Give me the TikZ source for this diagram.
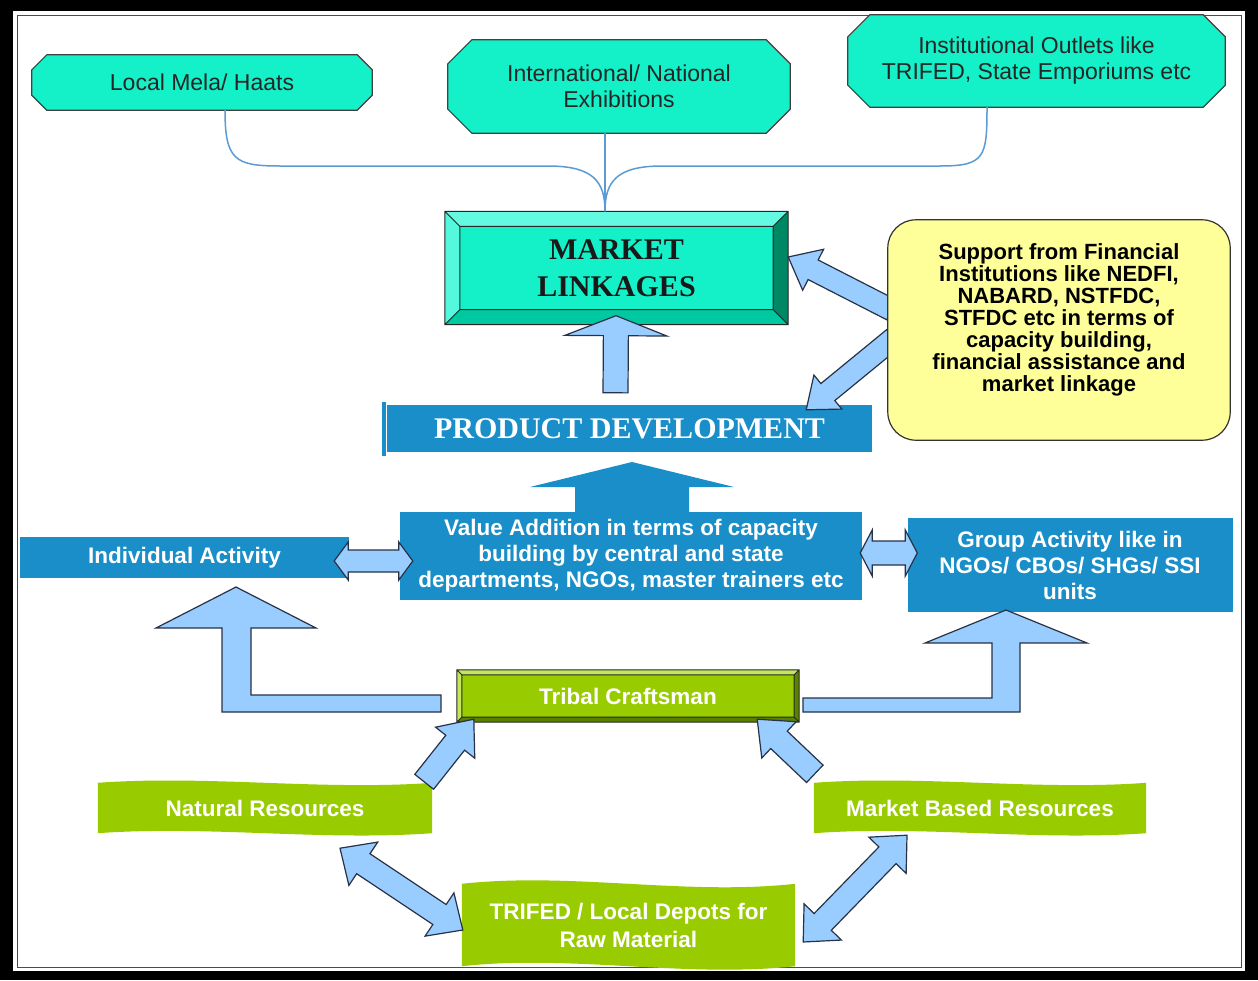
\documentclass[tikz,border=0pt]{standalone}
\usepackage{fontspec}
\setmainfont{Liberation Sans}
\newfontfamily\tnr{Liberation Serif}
\usetikzlibrary{calc,backgrounds}
\definecolor{turq}{RGB}{20,240,200}
\definecolor{turqlight}{RGB}{100,250,225}
\definecolor{turqmid}{RGB}{0,200,160}
\definecolor{turqdark}{RGB}{0,135,100}
\definecolor{boxblue}{RGB}{25,142,200}
\definecolor{arrblue}{RGB}{153,204,255}
\definecolor{leaf}{RGB}{153,204,0}
\definecolor{leaflight}{RGB}{195,230,90}
\definecolor{leafdark}{RGB}{90,130,0}
\definecolor{note}{RGB}{255,255,153}
\definecolor{wire}{RGB}{91,155,213}
\definecolor{outl}{RGB}{40,50,70}
\tikzset{
 base/.style={inner sep=0pt, align=center},
 octtext/.style={base, font=\fontsize{23}{26}\selectfont, text=black!85},
 bluebox/.style={base, fill=boxblue, text=white, font=\bfseries\fontsize{22.5}{26}\selectfont},
 greentext/.style={base, text=white, font=\bfseries\fontsize{22.5}{28}\selectfont},
 octo/.style={fill=turq, draw=black!75, line width=1.2pt},
 blockarrow/.style={fill=arrblue, draw=outl, line width=1.2pt, line join=miter},
 wireline/.style={draw=wire, line width=1.5pt},
}
\newcommand\octshape[2]{%
  \draw[octo] ($(#1.north west)+(#2,0)$) -- ($(#1.north east)+(-#2,0)$) -- ($(#1.north east)+(0,#2)$) -- ($(#1.south east)+(0,-#2)$) -- ($(#1.south east)+(-#2,0)$) -- ($(#1.south west)+(#2,0)$) -- ($(#1.south west)+(0,-#2)$) -- ($(#1.north west)+(0,#2)$) -- cycle;}
\newcommand\bevelshape[7]{%
  \fill[#3] (#1.north west) rectangle (#1.south east);
  \fill[#4] (#1.north west) -- (#1.north east) -- ($(#1.north east)+(-#2,#2)$) -- ($(#1.north west)+(#2,#2)$) -- cycle;
  \fill[#5] (#1.north west) -- ($(#1.north west)+(#2,#2)$) -- ($(#1.south west)+(#2,-#2)$) -- (#1.south west) -- cycle;
  \fill[#6] (#1.south west) -- ($(#1.south west)+(#2,-#2)$) -- ($(#1.south east)+(-#2,-#2)$) -- (#1.south east) -- cycle;
  \fill[#7] (#1.south east) -- ($(#1.south east)+(-#2,-#2)$) -- ($(#1.north east)+(-#2,#2)$) -- (#1.north east) -- cycle;
  \draw[black!85, line width=1pt] (#1.north west) rectangle (#1.south east) ($(#1.north west)+(#2,#2)$) rectangle ($(#1.south east)+(-#2,-#2)$) (#1.north west) -- ++(#2,#2) (#1.north east) -- ++(-#2,#2) (#1.south east) -- ++(-#2,-#2) (#1.south west) -- ++(#2,-#2);}
\newcommand\waveshape[2]{%
  \fill[leaf] (#1.north west) .. controls ($(#1.north west)!0.33!(#1.north east)+(0,-2*#2)$) and ($(#1.north west)!0.67!(#1.north east)+(0,2*#2)$) .. (#1.north east) -- (#1.south east) .. controls ($(#1.south west)!0.67!(#1.south east)+(0,2*#2)$) and ($(#1.south west)!0.33!(#1.south east)+(0,-2*#2)$) .. (#1.south west) -- cycle;}
\newcommand\barrow[5]{%
  \coordinate (bahb) at ($(#2)!#5!(#1)$);
  \draw[blockarrow] ($(#1)!#3!90:(#2)$) -- ($(bahb)!#3!90:(#2)$) -- ($(bahb)!#4!90:(#2)$) -- (#2) -- ($(bahb)!#4!-90:(#2)$) -- ($(bahb)!#3!-90:(#2)$) -- ($(#1)!#3!-90:(#2)$) -- cycle;}
\newcommand\dbarrow[5]{%
  \coordinate (dba) at ($(#1)!#5!(#2)$);
  \coordinate (dbb) at ($(#2)!#5!(#1)$);
  \draw[blockarrow] (#1) -- ($(dba)!#4!90:(#2)$) -- ($(dba)!#3!90:(#2)$) -- ($(dbb)!#3!90:(#2)$) -- ($(dbb)!#4!90:(#2)$) -- (#2) -- ($(dbb)!#4!-90:(#2)$) -- ($(dbb)!#3!-90:(#2)$) -- ($(dba)!#3!-90:(#2)$) -- ($(dba)!#4!-90:(#2)$) -- cycle;}
\begin{document}
\begin{tikzpicture}[x=1pt,y=-1pt]
\useasboundingbox (0,0) rectangle (1258,980);
% ---------- nodes (text) ----------
\node[octtext, minimum width=340pt, minimum height=55pt] (o1) at (202,82.5) {Local Mela/ Haats};
\node[octtext, minimum width=342pt, minimum height=93pt] (o2) at (619,86.5) {International/ National\\Exhibitions};
\node[octtext, minimum width=377pt, minimum height=92pt] (o3) at (1036.5,61) {Institutional Outlets like\\TRIFED, State Emporiums etc};
\node[base, minimum width=343pt, minimum height=113pt, font=\tnr\bfseries\fontsize{30}{37}\selectfont, text=black!90] (ml) at (616.5,268) {MARKET\\LINKAGES};
\node[base, fill=boxblue, text=white, minimum width=485pt, minimum height=47pt, font=\tnr\bfseries\fontsize{30}{36}\selectfont] (pd) at (629.5,428.5) {PRODUCT DEVELOPMENT};
\node[base, minimum width=342pt, minimum height=220pt] (fin) at (1059,330) {};
\node[bluebox, minimum width=462pt, minimum height=88pt] (va) at (631,556) {Value Addition in terms of capacity\\building by central and state\\departments, NGOs, master trainers etc};
\node[bluebox, minimum width=329pt, minimum height=41pt] (ind) at (184.5,557.5) {Individual Activity};
\node[bluebox, minimum width=325pt, minimum height=94pt] (grp) at (1070,565) {Group Activity like in\\NGOs/ CBOs/ SHGs/ SSI\\units};
\node[greentext, minimum width=342pt, minimum height=52pt] (tc) at (628,696) {Tribal Craftsman};
\node[greentext, minimum width=334pt, minimum height=50pt] (nr) at (265,808) {Natural Resources};
\node[greentext, minimum width=332pt, minimum height=50pt] (mbr) at (980,808) {Market Based Resources};
\node[greentext, minimum width=333pt, minimum height=82pt] (tr) at (628.5,925) {TRIFED / Local Depots for\\Raw Material};
% ---------- background shapes ----------
\begin{pgfonlayer}{background}
\fill[black] (0,0) rectangle (1258,980);
\fill[white] (13,11) rectangle (1245,971);
\draw[black!70, line width=1pt] (17,15) rectangle (1241,967);
\octshape{o1}{15}
\octshape{o2}{24}
\octshape{o3}{22}
\bevelshape{ml}{15}{turq}{turqlight}{turqlight!80!turq}{turqmid}{turqdark}
\bevelshape{tc}{5}{leaf}{leaflight}{leaflight}{leafdark}{leafdark}
\fill[boxblue] (382,402) rectangle (385.5,456);
\waveshape{nr}{4}
\waveshape{mbr}{4}
\waveshape{tr}{6}
\end{pgfonlayer}
% ---------- thin connectors ----------
\coordinate (junc) at ($(ml.north)+(-11.5,0)$);
\draw[wireline] ($(o1.south)+(23,0)$) .. controls +(0,50) and +(-45,0) .. (280,166) -- (548,166) .. controls +(45,0) and +(0,-30) .. (junc);
\draw[wireline] ($(o3.south)+(-49.5,0)$) .. controls +(0,50) and +(45,0) .. (940,166) -- (662,166) .. controls +(-45,0) and +(0,-30) .. (junc);
\draw[wireline] ($(o2.south)+(-14,0)$) -- (junc);
% ---------- block arrows ----------
\coordinate (pdA) at ($(pd.north)+(-14,-12)$);
\coordinate (mlA) at ($(ml.south)+(-0.5,-9)$);
\barrow{pdA}{mlA}{12.5pt}{51pt}{20pt}
\coordinate (finA) at ($(fin.west)+(4,-20)$);
\coordinate (mlB) at ($(ml.east)+(0,-11)$);
\barrow{finA}{mlB}{11pt}{23pt}{28pt}
\coordinate (finB) at ($(fin.west)+(6,8)$);
\coordinate (pdB) at ($(pd.north east)+(-66,5)$);
\barrow{finB}{pdB}{11pt}{22pt}{28pt}
% yellow note on top of the arrow tails
\draw[fill=note, draw=black!80, line width=1.2pt, rounded corners=28pt] (fin.north west) rectangle (fin.south east);
\node[base, font=\bfseries\fontsize{22}{22}\selectfont] (fintx) at (1059,320) {Support from Financial\\Institutions like NEDFI,\\NABARD, NSTFDC,\\STFDC etc in terms of\\capacity building,\\financial assistance and\\market linkage};
% big dark arrow value addition -> product development
\fill[boxblue] (575,513) -- (575,487) -- (530,487) -- (632,462) -- (734,487) -- (689,487) -- (689,513) -- cycle;
% double arrows middle row
\coordinate (indA) at ($(ind.east)+(-15,3.5)$);
\coordinate (vaA) at ($(va.west)+(13,5)$);
\dbarrow{indA}{vaA}{11pt}{19pt}{14pt}
\coordinate (vaB) at ($(va.east)+(-2,-3)$);
\coordinate (grpA) at ($(grp.west)+(10,-12)$);
\dbarrow{vaB}{grpA}{12pt}{23pt}{12pt}
% L-shaped arrows from Tribal Craftsman
\draw[blockarrow] (441,695) -- (251,695) -- (251,628) -- (316,628) -- (236,587) -- (156,628) -- (222,628) -- (222,712) -- (441,712) -- cycle;
\draw[blockarrow] (803,698) -- (992,698) -- (992,643) -- (925,643) -- (1006,610) -- (1087,643) -- (1020,643) -- (1020,712) -- (803,712) -- cycle;
% resources -> craftsman
\coordinate (nrA) at ($(nr.north east)+(-8,-1)$);
\coordinate (tcA) at ($(tc.south west)+(17,-3)$);
\barrow{nrA}{tcA}{12pt}{25pt}{30pt}
\coordinate (mbrA) at ($(mbr.north west)+(1,-9)$);
\coordinate (tcB) at ($(tc.south east)+(-42,-3)$);
\barrow{mbrA}{tcB}{12pt}{25pt}{30pt}
% resources <-> depots
\coordinate (nrB) at ($(nr.south)+(75,15)$);
\coordinate (trA) at ($(tr.west)+(1,5)$);
\dbarrow{nrB}{trA}{12pt}{26pt}{28pt}
\coordinate (mbrB) at ($(mbr.south)+(-73,2)$);
\coordinate (trB) at ($(tr.east)+(8,17)$);
\dbarrow{mbrB}{trB}{12pt}{26pt}{28pt}
\end{tikzpicture}
\end{document}
